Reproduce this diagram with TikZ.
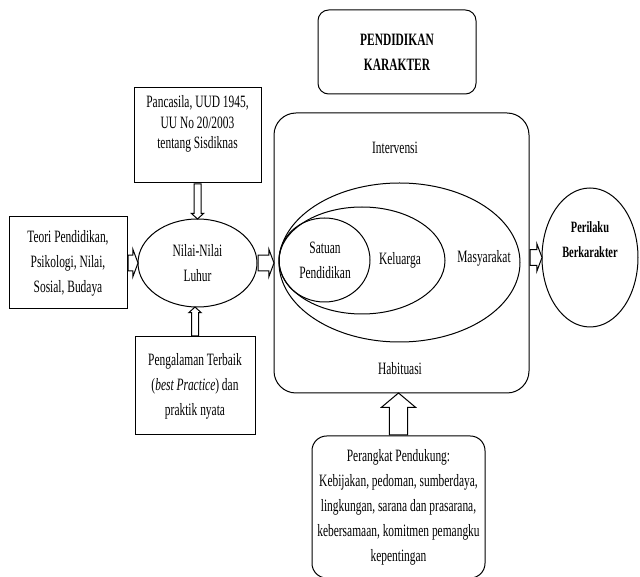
\documentclass[tikz,border=0pt]{standalone}
\usepackage{fontspec}
\setmainfont{Liberation Serif}[FakeStretch=0.66]
\usetikzlibrary{shapes.geometric,shapes.arrows,calc}

\tikzset{every picture/.style={line width=0.75pt}}
\tikzset{
  teks/.style={align=center, inner sep=0.75pt, font=\fontsize{13}{18.75}\selectfont},
  kotak/.style={teks, draw},
  panah/.style={draw, fill=white, single arrow, anchor=tail, inner xsep=0pt},
  blok/.style={to path={let \p1=(\tikztostart), \p2=(\tikztotarget) in
      node[panah, #1, rotate={-atan2(\y2-\y1,\x2-\x1)}, minimum height={veclen(\x2-\x1,\y2-\y1)}] at (\tikztostart) {}}}
}

\begin{document}
\begin{tikzpicture}[x=0.75pt,y=0.75pt,yscale=-1,xscale=1]
    \useasboundingbox (0,0) rectangle (640,577);

    %Rounded Rect [judul]
    \node[kotak, rounded corners=8pt, font=\bfseries\fontsize{13}{18.75}\selectfont, minimum width=118.5pt, minimum height=63pt] (judul) at (397,52) {PENDIDIKAN\\KARAKTER};
    %Shape: Rectangle [teori]
    \node[kotak, minimum width=88.5pt, minimum height=69pt] (teori) at (68,263) {Teori Pendidikan,\\Psikologi, Nilai,\\Sosial, Budaya};
    %Shape: Rectangle [pancasila]
    \node[draw, minimum width=95.25pt, minimum height=71.25pt] (pancasila) at (197.5,135.5) {};
    %Shape: Rectangle [pengalaman]
    \node[kotak, minimum width=90pt, minimum height=73.5pt] (pengalaman) at (195,386) {Pengalaman Terbaik\\(\textit{best Practice}) dan\\praktik nyata};
    %Shape: Ellipse [nilai]
    \node[kotak, ellipse, minimum width=89.25pt, minimum height=66pt] (nilai) at (197.5,263) {Nilai-Nilai\\Luhur};

    %Rounded Rect [inti]
    \node[draw, rounded corners=16.5pt, minimum width=191.25pt, minimum height=210pt] (inti) at (401.5,253) {};
    %Shape: Ellipse
    \draw (399.5,262.5) ellipse [x radius=120.5, y radius=79.5];
    %Shape: Ellipse
    \draw (362,260.5) ellipse [x radius=83, y radius=53.5];
    %Shape: Ellipse
    \draw (324.5,260) ellipse [x radius=45.5, y radius=42];

    %Shape: Ellipse [perilaku]
    \node[draw, ellipse, minimum width=72pt, minimum height=104.25pt] (perilaku) at (590,257.5) {};

    %Rounded Rect [perangkat]
    \node[kotak, rounded corners=11pt, minimum width=129.75pt, minimum height=106.5pt] (perangkat) at (398.5,507) {Perangkat Pendukung:\\Kebijakan, pedoman, sumberdaya,\\lingkungan, sarana dan prasarana,\\kebersamaan, komitmen pemangku\\kepentingan};

    %Block Arrows
    \path (teori.east) to[blok={inner ysep=5.6pt, single arrow head extend=4.5pt, single arrow tip angle=139}] (nilai.west);
    \path (nilai.east) to[blok={inner ysep=5.6pt, single arrow head extend=4.5pt, single arrow tip angle=139}] (nilai.east -| inti.west);
    \path (inti.east |- perilaku.west) to[blok={inner ysep=5.6pt, single arrow head extend=4.5pt, single arrow tip angle=139}] (perilaku.west);
    \path (pancasila.south) to[blok={inner ysep=2.25pt, single arrow head extend=1.9pt, single arrow tip angle=95}] (nilai.north);
    \path (pengalaman.north) to[blok={inner ysep=2.25pt, single arrow head extend=1.9pt, single arrow tip angle=95}] (pengalaman.north |- nilai.south);
    \path (perangkat.north) to[blok={inner ysep=6.4pt, single arrow head extend=6pt, single arrow tip angle=100}] (perangkat.north |- inti.south);

    % Text Node
    \node[teks, font=\fontsize{13}{15.5}\selectfont] (pancasilateks) at (197.5,124) {Pancasila, UUD 1945,\\UU No 20/2003\\tentang Sisdiknas};
    % Text Node
    \node[teks] (intervensi) at (395,148) {Intervensi};
    % Text Node
    \node[teks] (habituasi) at (400,369) {Habituasi};
    % Text Node
    \node[teks] (satuan) at (325,260) {Satuan\\Pendidikan};
    % Text Node
    \node[teks] (keluarga) at (400,260) {Keluarga};
    % Text Node
    \node[teks] (masyarakat) at (484,258) {Masyarakat};
    % Text Node
    \node[teks, font=\bfseries\fontsize{11.8}{18.75}\selectfont] (perilakuteks) at (590,240) {Perilaku\\Berkarakter};

\end{tikzpicture}
\end{document}
